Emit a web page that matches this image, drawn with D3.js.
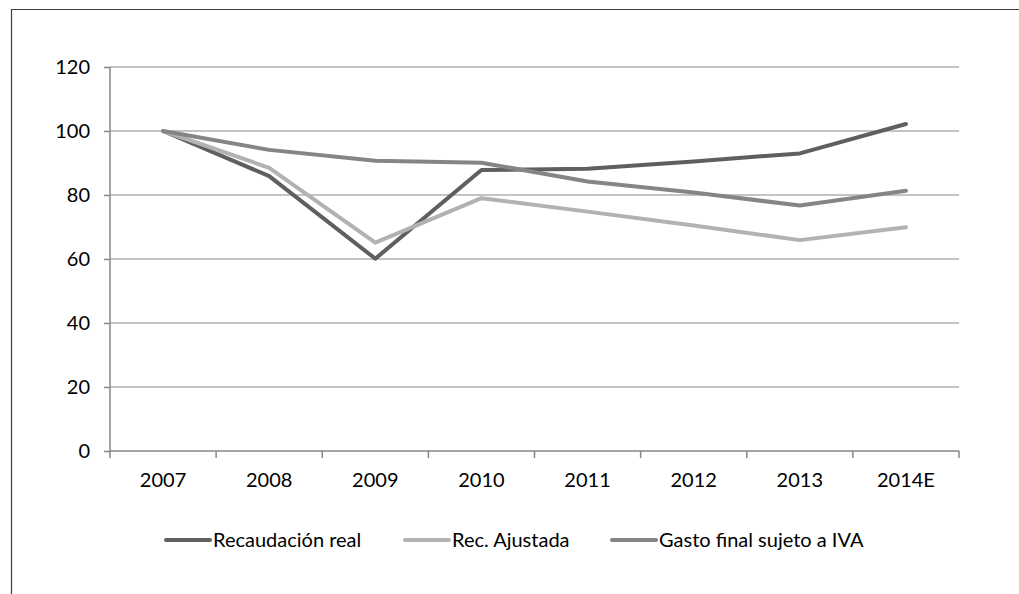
<!DOCTYPE html>
<html>
<head>
<meta charset="utf-8">
<script src="https://cdn.jsdelivr.net/npm/d3@7"></script>
<style>
  body { margin: 0; background: #fff; }
  text { font-family: Lato, "Open Sans", sans-serif; font-size: 20px; fill: #000; }
</style>
</head>
<body>
<script>
const w = 1019, h = 594;

const years = ['2007', '2008', '2009', '2010', '2011', '2012', '2013', '2014E'];
const recaudacion = [100, 85.9, 60.1, 87.8, 88.2, 90.5, 93.0, 102.2];
const ajustada = [100, 88.5, 65.1, 79.0, 74.8, 70.5, 65.9, 69.9];
const gasto = [100, 94.1, 90.7, 90.1, 84.2, 80.8, 76.7, 81.3];
const yTicks = [0, 20, 40, 60, 80, 100, 120];

const series = [
  { name: 'Recaudación real', values: recaudacion, color: '#5f5f5f' },
  { name: 'Rec. Ajustada', values: ajustada, color: '#b2b2b2' },
  { name: 'Gasto final sujeto a IVA', values: gasto, color: '#858585' }
];

const svg = d3.select('body').append('svg')
    .attr('width', w)
    .attr('height', h);

// outer frame (cut off at right and bottom)
svg.append('path')
    .attr('d', `M11.5,${h} L11.5,9.5 L${w},9.5`)
    .attr('fill', 'none')
    .attr('stroke', '#404040')
    .attr('stroke-width', 1.2);

const x = d3.scaleBand().domain(years).range([110, 959]);
const y = d3.scaleLinear().domain([0, 120]).range([451, 67]);

// gridlines
svg.append('g')
  .selectAll('line')
  .data(yTicks.filter(d => d > 0))
  .join('line')
    .attr('x1', 110).attr('x2', 959)
    .attr('y1', d => y(d)).attr('y2', d => y(d))
    .attr('stroke', '#8a8a8a')
    .attr('stroke-width', 1.2);

// y axis
const yAxis = svg.append('g')
    .attr('transform', 'translate(110,0)')
    .call(d3.axisLeft(y).tickValues(yTicks).tickSize(6).tickPadding(14));
yAxis.selectAll('line, path').attr('stroke', '#868686').attr('stroke-width', 1.5);
yAxis.select('.domain').attr('d', `M0,${y(120)}V${y(0)}`);
yAxis.selectAll('text').style('font-family', 'Lato, "Open Sans", sans-serif').style('font-size', '20px').attr('fill', '#000');

// x axis with ticks at category boundaries
const xAxis = svg.append('g')
    .attr('transform', `translate(0,${y(0)})`);
xAxis.append('line')
    .attr('x1', 110).attr('x2', 959)
    .attr('stroke', '#868686').attr('stroke-width', 1.5);
xAxis.selectAll('.bound')
  .data(years.concat(['end']))
  .join('line')
    .attr('class', 'bound')
    .attr('x1', (d, i) => 110 + i * x.step()).attr('x2', (d, i) => 110 + i * x.step())
    .attr('y1', 0).attr('y2', 7)
    .attr('stroke', '#868686').attr('stroke-width', 1.5);
xAxis.selectAll('text')
  .data(years)
  .join('text')
    .attr('x', d => x(d) + x.bandwidth() / 2)
    .attr('y', 36)
    .attr('text-anchor', 'middle')
    .text(d => d);

// lines
const line = d3.line()
    .x((d, i) => x(years[i]) + x.bandwidth() / 2)
    .y(d => y(d));

svg.append('g')
  .selectAll('path')
  .data(series)
  .join('path')
    .attr('d', d => line(d.values))
    .attr('fill', 'none')
    .attr('stroke', d => d.color)
    .attr('stroke-width', 4)
    .attr('stroke-linecap', 'round')
    .attr('stroke-linejoin', 'round');

// legend
const legendX = [166, 405, 612];
const legend = svg.append('g')
  .selectAll('g')
  .data(series)
  .join('g')
    .attr('transform', (d, i) => `translate(${legendX[i]},540)`);
legend.append('line')
    .attr('x1', 0).attr('x2', 44)
    .attr('stroke', d => d.color)
    .attr('stroke-width', 4)
    .attr('stroke-linecap', 'round');
legend.append('text')
    .attr('x', 47)
    .attr('dy', '0.35em')
    .text(d => d.name);
</script>
</body>
</html>
